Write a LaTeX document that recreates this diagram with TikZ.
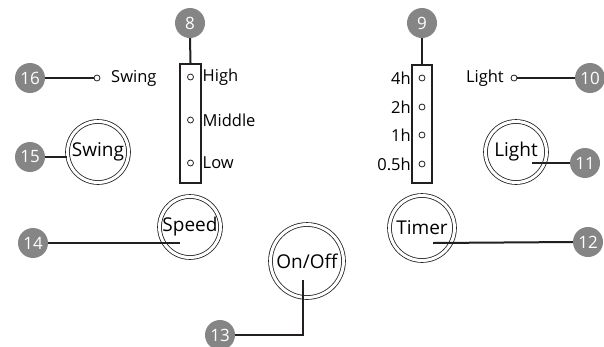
\documentclass[tikz,border=0pt]{standalone}
\usepackage{fontspec}
\setmainfont{Open Sans}
\definecolor{badgegray}{HTML}{858585}
\definecolor{linecol}{HTML}{231F20}
\begin{document}
\begin{tikzpicture}[x=1pt,y=-1pt,
  badge/.style={circle,fill=badgegray,text=white,minimum size=30pt,inner sep=0pt,font=\fontsize{17}{17}\selectfont},
  btn/.style={circle,draw=linecol,line width=0.8pt,double=white,double distance=3pt,inner sep=0pt,font=\fontsize{19}{19}\selectfont},
  dotc/.style={circle,draw=linecol,line width=0.8pt,minimum size=6pt,inner sep=0pt},
  panel/.style={rectangle,draw=linecol,line width=2.2pt,inner sep=0pt},
  lbl/.style={inner sep=0pt,font=\fontsize{16.5}{17}\selectfont},
  conn/.style={draw=linecol,line width=2pt}]
\useasboundingbox (0,0) rectangle (604,346);
\fill[white] (0,0) rectangle (604,346);
% badges
\node[badge] (b8) at (190,23) {8};
\node[badge] (b9) at (422,23) {9};
\node[badge] (b10) at (590,78) {10};
\node[badge] (b11) at (585,163) {11};
\node[badge] (b12) at (588,242) {12};
\node[badge] (b13) at (220,335) {13};
\node[badge] (b14) at (33,243) {14};
\node[badge] (b15) at (30,157) {15};
\node[badge] (b16) at (30,78) {16};
% panels
\node[panel,minimum width=21pt,minimum height=119pt] (p8) at (190.5,123.5) {};
\node[panel,minimum width=20pt,minimum height=118pt] (p9) at (422,124) {};
% dots
\node[dotc] (dh) at (190.5,77) {};
\node[dotc] (dm) at (190.5,120) {};
\node[dotc] (dl) at (190.5,163) {};
\node[dotc] (t4) at (422,78) {};
\node[dotc] (t2) at (422,107) {};
\node[dotc] (t1) at (422,135) {};
\node[dotc] (t05) at (422,164) {};
\node[dotc] (ds) at (97,78) {};
\node[dotc] (dlt) at (514,78) {};
% labels
\node[lbl,anchor=west] (lh) at (202.5,77) {High};
\node[lbl,anchor=west] (lm) at (202.5,120) {Middle};
\node[lbl,anchor=west] (ll) at (202.5,163) {Low};
\node[lbl,anchor=east] (l4) at (411,78) {4h};
\node[lbl,anchor=east] (l2) at (411,107) {2h};
\node[lbl,anchor=east] (l1) at (411,135) {1h};
\node[lbl,anchor=east] (l05) at (411,164) {0.5h};
\node[lbl,anchor=west] (ls) at (111,78) {Swing};
\node[lbl,anchor=east] (llt) at (504,78) {Light};
% buttons
\node[btn,minimum size=61pt] (swing) at (98,152) {Swing};
\node[btn,minimum size=61pt] (speed) at (190,227) {Speed};
\node[btn,minimum size=73pt] (onoff) at (307,261) {On/Off};
\node[btn,minimum size=65pt] (timer) at (422,228) {Timer};
\node[btn,minimum size=61pt] (light) at (516,152) {Light};
% connector ends inside buttons
\coordinate (e14) at (180,243);
\coordinate (e13) at (303,280);
\coordinate (e12) at (433,243);
\coordinate (e11) at (532,163);
% connectors
\draw[conn] (b8.south) -- (p8.north);
\draw[conn] (b9.south) -- (p9.north);
\draw[conn] (b16.east) -- (ds.west);
\draw[conn] (dlt.east) -- (b10.west);
\draw[conn] (b15.east) -- (b15.east -| swing.west);
\draw[conn] (b14.east) -- (e14);
\draw[conn] (e13) |- (b13.east);
\draw[conn] (e12) -- (b12.west);
\draw[conn] (e11) -- (b11.west);
\end{tikzpicture}
\end{document}
